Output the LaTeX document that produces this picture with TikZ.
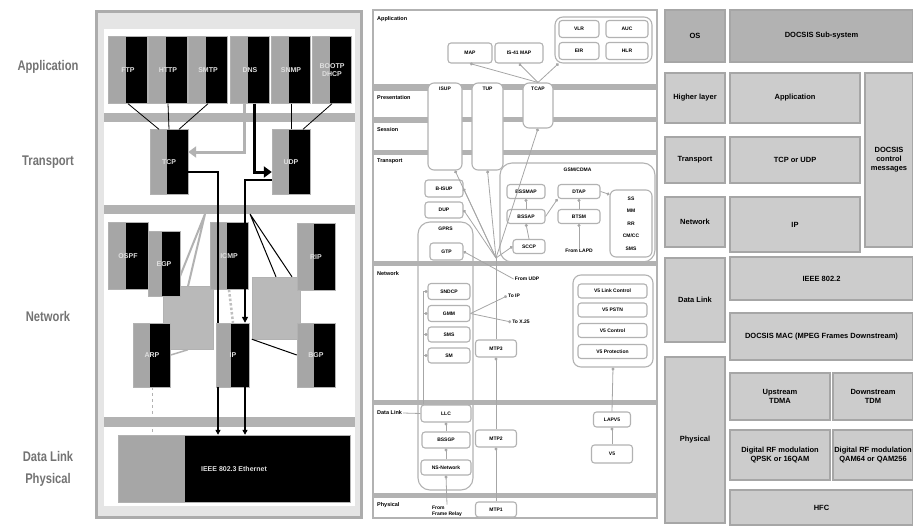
\documentclass[tikz,border=0pt]{standalone}
\usepackage{fontspec}
\setmainfont{Liberation Sans}
\newfontfamily\narrowfont[FakeStretch=0.8]{Liberation Sans}
\usetikzlibrary{arrows.meta}

\begin{document}
\begin{tikzpicture}[x=1pt, y=-1pt,
    lbl/.style={font=\narrowfont\bfseries\fontsize{14}{15}\selectfont, text=black!55},
    tbox/.style={draw=gray!60, fill=black, text=gray!25, font=\bfseries\fontsize{7}{8}\selectfont, inner sep=1pt, align=center,
        path picture={\fill[gray!70] (path picture bounding box.north west) rectangle ([xshift=-2pt]path picture bounding box.south);}},
    gbox/.style={draw=gray!60, fill=gray!55},
    band/.style={fill=gray!60},
    sbox/.style={draw=gray!60, line width=1.1pt, rounded corners=3pt, fill=white, font=\bfseries\fontsize{5}{6}\selectfont, inner sep=1pt, align=center},
    grp/.style={draw=gray!60, line width=1.1pt, rounded corners=8pt},
    tag/.style={font=\bfseries\fontsize{5}{6}\selectfont, inner sep=1pt, align=center},
    lyr/.style={font=\bfseries\fontsize{5.5}{6.5}\selectfont, anchor=west, inner sep=1pt},
    dbox/.style={draw=gray!70, line width=1.5pt, fill=gray!40, font=\bfseries\fontsize{7.5}{9}\selectfont, align=center, inner sep=1pt},
    dotend/.style={-{Circle[length=3pt]}, draw=gray!70, line width=0.8pt},
    link/.style={draw=black, line width=0.8pt}
  ]
    \useasboundingbox (0,0) rectangle (913,525);

    % TCP/IP stack
    \draw[gray!65, fill=gray!20, line width=3pt] (96,11) rectangle (361,517);
    \fill[white] (104,29) rectangle (355,506);
    \fill[band] (104,113) rectangle (355,122);
    \fill[band] (104,205) rectangle (355,214);
    \fill[band] (104,417) rectangle (355,427);

    \node[lbl] (lapp) at (48,67) {Application};
    \node[lbl] (ltrans) at (48,162) {Transport};
    \node[lbl] (lnet) at (48,316) {Network};
    \node[lbl] (ldl) at (48,456) {Data Link};
    \node[lbl] (lphy) at (48,480) {Physical};

    \node[tbox, minimum width=39, minimum height=67] (ftp) at (128,70) {FTP};
    \node[tbox, minimum width=39, minimum height=67] (http) at (168,70) {HTTP};
    \node[tbox, minimum width=39, minimum height=67] (smtp) at (208,70) {SMTP};
    \node[tbox, minimum width=39, minimum height=67] (dns) at (250,70) {DNS};
    \node[tbox, minimum width=39, minimum height=67] (snmp) at (291,70) {SNMP};
    \node[tbox, minimum width=39, minimum height=67] (bootp) at (332,70) {BOOTP\\DHCP};

    \node[tbox, minimum width=38, minimum height=65] (tcp) at (169,162) {TCP};
    \node[tbox, minimum width=38, minimum height=65] (udp) at (291,162) {UDP};

    \draw[link] (ftp.south) -- ([xshift=-10pt]tcp.north);
    \draw[link] (http.south) -- (tcp.north);
    \draw[link] (smtp.south) -- ([xshift=10pt]tcp.north);
    \draw[link] (snmp.south) -- (udp.north);
    \draw[link] (bootp.south) -- ([xshift=12pt]udp.north);
    \draw[gray!60, line width=3pt, -{Triangle[length=8pt, width=11pt]}] ([xshift=-6pt]dns.south) |- ([yshift=10pt]tcp.east);
    \draw[line width=3pt, -{Triangle[length=8pt, width=11pt]}] ([xshift=4pt]dns.south) |- ([yshift=-10pt]udp.west);

    \coordinate (jl) at (205,214);
    \coordinate (jr) at (250,214);
    \node[gbox, minimum width=50, minimum height=63] (igmpg) at (188,318) {};
    \node[gbox, minimum width=48, minimum height=62] (rarpg) at (276,308) {};
    \draw[gray!60, line width=2pt] (jl) -- (igmpg.north) (jl) -- ([xshift=-12pt]igmpg.north);
    \draw[line width=1pt] (jr) -- (rarpg.north) (jr) -- ([xshift=16pt]rarpg.north);

    \node[tbox, minimum width=40, minimum height=67] (ospf) at (128,256) {OSPF};
    \node[tbox, minimum width=32, minimum height=65] (egp) at (164,264) {EGP};
    \node[tbox, minimum width=38, minimum height=67] (icmp) at (229,256) {ICMP};
    \node[tbox, minimum width=38, minimum height=67] (rip) at (316,257) {RIP};
    \node[tbox, minimum width=37, minimum height=64] (arp) at (152,355) {ARP};
    \node[tbox, minimum width=33, minimum height=64] (ip) at (233,355) {IP};
    \node[tbox, minimum width=38, minimum height=64] (bgp) at (316,355) {BGP};

    \draw[gray!60, line width=1.5pt] (arp.east) -- (igmpg.south);
    \draw[line width=1pt] (rarpg.south west) -- (bgp.west);
    \draw[gray!50, line width=2.5pt, dotted] (icmp.south) -- (ip.north);
    \draw[line width=2pt] ([yshift=-10pt]tcp.east) -| ([xshift=-15pt]ip.north);
    \draw[line width=2pt, -{Triangle[length=6pt, width=6pt]}] ([yshift=-18pt]udp.west) -| ([xshift=12pt]ip.north);

    \node[tbox, minimum width=232, minimum height=67,
        path picture={\fill[gray!70] (path picture bounding box.north west) rectangle ([xshift=67pt]path picture bounding box.south west);}]
        (eth) at (234,468.5) {IEEE 802.3 Ethernet};
    \draw[line width=1.5pt, -{Triangle[length=5pt, width=5pt]}] ([xshift=-15pt]ip.south) -- ([xshift=-15pt]ip.south |- eth.north);
    \draw[line width=1.5pt, -{Triangle[length=5pt, width=5pt]}] ([xshift=12pt]ip.south) -- ([xshift=12pt]ip.south |- eth.north);
    \draw[gray!60, line width=1pt, dashed] (arp.south) -- (arp.south |- eth.north);

    % SS7 / GSM stack
    \draw[gray!60, line width=1.5pt] (373,10) rectangle (657,518);
    \fill[band] (373,84) rectangle (657,90);
    \fill[band] (373,117) rectangle (657,122);
    \fill[band] (373,150) rectangle (657,155);
    \fill[band] (373,261) rectangle (657,266);
    \fill[band] (373,400) rectangle (657,405);
    \fill[band] (373,493) rectangle (657,498);
    \draw[gray!60, line width=1pt] (373,90) rectangle (428,117);
    \draw[gray!60, line width=1pt] (373,122) rectangle (428,150);

    \node[lyr] (mapp) at (376,19) {Application};
    \node[lyr] (mpres) at (376,98) {Presentation};
    \node[lyr] (msess) at (376,130) {Session};
    \node[lyr] (mtrans) at (376,161) {Transport};
    \node[lyr] (mnet) at (376,274) {Network};
    \node[lyr] (mdl) at (376,413) {Data Link};
    \node[lyr] (mphy) at (376,505) {Physical};

    \node[sbox, minimum width=44, minimum height=20] (map) at (470,53) {MAP};
    \node[sbox, minimum width=48, minimum height=20] (is41) at (519,53) {IS-41 MAP};
    \node[grp, minimum width=97, minimum height=46] (reg) at (603.5,40) {};
    \node[sbox, minimum width=40, minimum height=17] (vlr) at (579,29) {VLR};
    \node[sbox, minimum width=42, minimum height=17] (auc) at (627,29) {AUC};
    \node[sbox, minimum width=40, minimum height=17] (eir) at (579,51) {EIR};
    \node[sbox, minimum width=42, minimum height=17] (hlr) at (627,51) {HLR};

    \node[sbox, rounded corners=6pt, minimum width=34, minimum height=87,
        label={[tag, anchor=north, yshift=-3pt]north:ISUP}] (isup) at (445,126.5) {};
    \node[sbox, rounded corners=6pt, minimum width=31, minimum height=87,
        label={[tag, anchor=north, yshift=-3pt]north:TUP}] (tup) at (487.5,126.5) {};
    \node[sbox, rounded corners=6pt, minimum width=30, minimum height=45,
        label={[tag, anchor=north, yshift=-3pt]north:TCAP}] (tcap) at (538,105.5) {};
    \draw[dotend] (tcap.north) -- (map.south);
    \draw[dotend] (tcap.north) -- (is41.south);
    \draw[dotend] (tcap.north) -- ([xshift=4pt]reg.south west);

    \node[sbox, minimum width=38, minimum height=17] (bisup) at (444,188.5) {B-ISUP};
    \node[sbox, minimum width=38, minimum height=16] (dup) at (444,210) {DUP};

    % GPRS
    \node[grp, rounded corners=12pt, minimum width=55, minimum height=268,
        label={[tag, anchor=north, yshift=-4pt]north:GPRS}] (gprs) at (445.5,356) {};
    \node[sbox, minimum width=33, minimum height=17] (gtp) at (446.5,251.5) {GTP};
    \node[sbox, minimum width=42, minimum height=16] (sndcp) at (449,291.5) {SNDCP};
    \node[sbox, minimum width=42, minimum height=16] (gmm) at (449,313.5) {GMM};
    \node[sbox, minimum width=42, minimum height=15] (sms) at (449,334.5) {SMS};
    \node[sbox, minimum width=42, minimum height=15] (sm) at (449,355.5) {SM};
    \node[sbox, minimum width=50, minimum height=17] (llc) at (446,413.5) {LLC};
    \node[sbox, minimum width=48, minimum height=16] (bssgp) at (446,440) {BSSGP};
    \node[sbox, minimum width=50, minimum height=15] (ns) at (446,467.5) {NS-Network};
    \node[tag, align=left] (fromfr) at (447,511) {From\\Frame Relay};
    \coordinate (spine) at (423,291);
    \draw[gray!70, line width=0.8pt] (spine) -- (spine |- llc.north);
    \foreach \b in {sndcp,gmm,sms,sm}
        \draw[dotend] (\b.west -| spine) -- (\b.west);
    \draw[dotend] (bssgp.north) -- (llc.south);
    \draw[dotend] (ns.north) -- (bssgp.south);
    \draw[dotend] (fromfr.north) -- (ns.south);
    \draw[gray!70, line width=0.8pt] (mdl.east) -- (llc.west);

    \node[tag] (fromudp) at (527,279) {From UDP};
    \node[tag] (toip) at (514,296) {To IP};
    \node[tag] (tox) at (521,322) {To X.25};
    \draw[dotend] (fromudp.west) -- (gtp.east);
    \draw[dotend] (gmm.east) -- (toip.west);
    \draw[dotend] (gmm.east) -- (tox.west);

    % GSM/CDMA
    \node[grp, rounded corners=12pt, minimum width=155, minimum height=99,
        label={[tag, anchor=north, yshift=-4pt]north:GSM/CDMA}] (gsm) at (577.5,212.5) {};
    \node[sbox, minimum width=38, minimum height=14] (bssmap) at (526,191.5) {BSSMAP};
    \node[sbox, minimum width=42, minimum height=14] (dtap) at (579,191.5) {DTAP};
    \node[sbox, minimum width=38, minimum height=14] (bssap) at (526,216.5) {BSSAP};
    \node[sbox, minimum width=42, minimum height=14] (btsm) at (579,216.5) {BTSM};
    \node[sbox, minimum width=32, minimum height=14] (sccp) at (529,246.5) {SCCP};
    \node[tag] (fromlapd) at (579,251) {From LAPD};
    \node[sbox, rounded corners=6pt, minimum width=42, minimum height=67,
        font=\bfseries\fontsize{5}{12.5}\selectfont] (ms) at (631,223.5) {SS\\MM\\RR\\CM/CC\\SMS};
    \draw[dotend] (bssap.north) -- (bssmap.south);
    \draw[dotend] (sccp.north) -- (bssap.south);
    \draw[dotend] (bssap.east) -- (dtap.south west);
    \draw[dotend] (btsm.north) -- (dtap.south);
    \draw[dotend] (fromlapd.north) -- (btsm.south);
    \draw[dotend] (dtap.east) -- ([yshift=-5pt]ms.north west);

    % MTP
    \node[sbox, minimum width=41, minimum height=17] (mtp3) at (496,348.5) {MTP3};
    \node[sbox, minimum width=41, minimum height=17] (mtp2) at (496,438.5) {MTP2};
    \node[sbox, minimum width=41, minimum height=15] (mtp1) at (496,509.5) {MTP1};
    \coordinate (hub) at (496,258);
    \draw[dotend] (hub) -- ([xshift=10pt]isup.south);
    \draw[dotend] (hub) -- (tup.south);
    \draw[dotend] (hub) -- (bisup.east);
    \draw[dotend] (hub) -- (dup.east);
    \draw[dotend] (hub) -- (tcap.south);
    \draw[dotend] (hub) -- (sccp.west);
    \draw[gray!70, line width=0.8pt] (hub) -- (mtp3.north);
    \draw[dotend] (mtp2.north) -- (mtp3.south);
    \draw[dotend] (mtp1.north) -- (mtp2.south);

    % V5
    \node[grp, minimum width=80, minimum height=92] (v5g) at (613,321) {};
    \node[sbox, minimum width=69, minimum height=14] (v5lc) at (612.5,291) {V5 Link Control};
    \node[sbox, minimum width=69, minimum height=14] (v5pstn) at (612.5,310) {V5 PSTN};
    \node[sbox, minimum width=69, minimum height=14] (v5ctl) at (612.5,330.5) {V5 Control};
    \node[sbox, minimum width=69, minimum height=14] (v5prot) at (612.5,351.5) {V5 Protection};
    \node[sbox, minimum width=37, minimum height=15] (lapv5) at (612,419.5) {LAPV5};
    \node[sbox, minimum width=41, minimum height=18] (v5) at (612,454) {V5};
    \draw[dotend] (lapv5.north) -- (v5g.south);
    \draw[dotend] (v5.north) -- (lapv5.south);

    % DOCSIS stack
    \node[dbox, fill=gray!60, minimum width=60, minimum height=52] (os) at (695,36) {OS};
    \node[dbox, fill=gray!60, minimum width=183, minimum height=52] (docsis) at (821.5,36) {DOCSIS Sub-system};
    \node[dbox, minimum width=60, minimum height=50] (dhigh) at (695,98) {Higher layer};
    \node[dbox, minimum width=130, minimum height=50] (dapp) at (795,98) {Application};
    \node[dbox, minimum width=60, minimum height=46] (dtrans) at (695,160) {Transport};
    \node[dbox, minimum width=130, minimum height=46] (dtcp) at (795,160) {TCP or UDP};
    \node[dbox, minimum width=60, minimum height=50] (dnet) at (695,222) {Network};
    \node[dbox, minimum width=130, minimum height=55] (dip) at (795,224.5) {IP};
    \node[dbox, minimum width=48, minimum height=174] (dctl) at (889,160) {DOCSIS\\control\\messages};
    \node[dbox, minimum width=60, minimum height=84] (ddl) at (695,300) {Data Link};
    \node[dbox, minimum width=183, minimum height=43] (dllc) at (821.5,278.5) {IEEE 802.2};
    \node[dbox, minimum width=183, minimum height=47] (dmac) at (821.5,336.5) {DOCSIS MAC (MPEG Frames Downstream)};
    \node[dbox, minimum width=60, minimum height=166] (dphy) at (695,440) {Physical};
    \node[dbox, minimum width=100, minimum height=47] (dup1) at (780,396.5) {Upstream\\TDMA};
    \node[dbox, minimum width=80, minimum height=47] (ddown) at (873,396.5) {Downstream\\TDM};
    \node[dbox, minimum width=100, minimum height=50] (dqpsk) at (780,455) {Digital RF modulation\\QPSK or 16QAM};
    \node[dbox, minimum width=80, minimum height=50] (dqam) at (873,455) {Digital RF modulation\\QAM64 or QAM256};
    \node[dbox, minimum width=183, minimum height=35] (dhfc) at (821.5,507.5) {HFC};
\end{tikzpicture}
\end{document}
